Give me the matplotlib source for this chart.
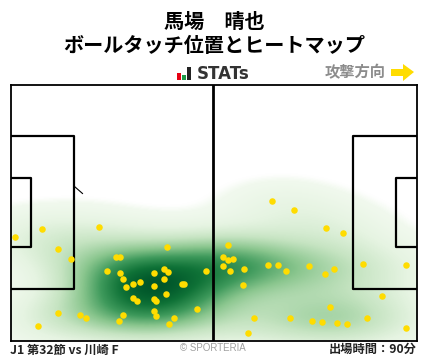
import numpy as np
import matplotlib.pyplot as plt
from matplotlib.colors import LinearSegmentedColormap
from matplotlib.patches import Rectangle, Polygon

plt.rcParams['font.family'] = ['Noto Sans CJK JP', 'DejaVu Sans']

# touch positions, pitch is 406 wide and 256 high, y counted from the top
touch_x = [4.8, 31.8, 88.8, 47.8, 60.5, 105.8, 109.8, 156.8, 96.8, 109.8, 112.8, 122.8, 129.8,
           115.8, 143.8, 153.8, 157.8, 153.8, 143.8, 171.5, 173.8, 195.8, 122.8, 126.8, 143.8,
           145.8, 155.8, 143.8, 145.8, 186.8, 163.8, 158.8, 112.8, 108.8, 69.8, 75.8, 47.8, 27.8,
           261.8, 283.8, 315.8, 332.8, 217.8, 212.8, 217.8, 222.8, 212.8, 219.8, 233.8, 257.8,
           267.8, 275.8, 298.8, 314.8, 323.8, 352.8, 395.8, 232.8, 371.8, 319.8, 243.8, 279.8,
           301.8, 311.8, 326.8, 336.8, 356.8, 395.8, 237.8]
touch_y = [152.8, 144.8, 142.8, 164.8, 174.8, 172.8, 172.8, 162.8, 186.8, 188.8, 194.8, 199.8, 197.8,
           202.8, 188.8, 184.8, 187.8, 194.8, 201.8, 199.8, 199.8, 186.8, 213.8, 216.8, 214.8,
           216.8, 209.8, 226.8, 231.8, 224.8, 233.8, 239.8, 230.8, 236.8, 230.8, 233.8, 228.8, 241.8,
           116.8, 125.8, 143.8, 148.8, 160.8, 172.8, 175.8, 174.8, 181.8, 186.8, 184.8, 180.8,
           180.8, 186.8, 181.8, 189.8, 184.8, 179.8, 180.8, 200.8, 211.8, 222.8, 233.8, 233.8,
           236.8, 237.8, 238.8, 239.8, 233.8, 243.8, 248.8]

title_1 = '馬場　晴也'
title_2 = 'ボールタッチ位置とヒートマップ'
match_label = 'J1 第32節 vs 川崎 F'
time_label = '出場時間：90分'

W, H = 428, 359
fig = plt.figure(figsize=(W / 100, H / 100), dpi=100)

# page layer in pixels for the texts
page = fig.add_axes([0, 0, 1, 1])
page.set_xlim(0, W)
page.set_ylim(H, 0)
page.axis('off')

page.text(214, 21, title_1, fontsize=14.5, fontweight='bold', ha='center', va='center')
page.text(214, 46, title_2, fontsize=14.5, fontweight='bold', ha='center', va='center')

# STATs logo
page.add_patch(Rectangle((177, 73), 4.5, 7, color='#e60012', lw=0))
page.add_patch(Rectangle((182, 75), 4, 5, color='#1d9a46', lw=0))
page.add_patch(Rectangle((187, 67), 4, 13, color='#222222', lw=0))
page.text(197, 74, 'STATs', fontsize=12, fontweight='bold', color='#333333', ha='left', va='center',
          family='DejaVu Sans')

page.text(355, 72, '攻撃方向', fontsize=11, fontweight='bold', color='#8c8c8c', ha='center', va='center')
page.add_patch(Polygon([(391, 69), (403, 69), (403, 64), (414, 72), (403, 81), (403, 76), (391, 76)],
                       color='#ffdc00', lw=0))

page.text(10, 350, match_label, fontsize=8.8, fontweight='bold', color='#222222', ha='left', va='center')
page.text(213, 348, '© SPORTERIA', fontsize=7, color='#a0a0a0', ha='center', va='center',
          family='Liberation Sans')
page.text(417, 349, time_label, fontsize=8.8, fontweight='bold', color='#222222', ha='right', va='center')

# pitch
ax = fig.add_axes([10.5 / W, 1 - 340.5 / H, 406 / W, 256 / H])
ax.set_xlim(0, 406)
ax.set_ylim(256, 0)
ax.set_xticks([])
ax.set_yticks([])
for s in ax.spines.values():
    s.set_linewidth(1.3)

# density of the touches
gx, gy = np.meshgrid(np.linspace(0, 406, 407), np.linspace(0, 256, 257))
dens = np.zeros_like(gx)
for px, py in zip(touch_x, touch_y):
    dens += np.exp(-((gx - px) ** 2 / (2 * 46.0 ** 2) + (gy - py) ** 2 / (2 * 20.0 ** 2)))
dens = dens / dens.max()

# white under the lowest level, so the heat area ends on a soft edge
cmap = LinearSegmentedColormap.from_list('heat', [(0, '#ffffff'), (0.03, '#ffffff'), (0.05, '#f1f9ee'),
                                                  (0.15, '#e6f4e2'), (0.3, '#c6e4c2'), (0.48, '#8ac68e'),
                                                  (0.66, '#3f9a5c'), (0.85, '#0f7237'), (1, '#00562a')])
ax.imshow(dens, extent=(0, 406, 256, 0), cmap=cmap, vmin=0, vmax=1, aspect='auto',
          interpolation='bilinear', zorder=1)

# pitch lines
lw = 1.6
ax.plot([202, 202], [0, 256], color='black', lw=2, zorder=3)
ax.plot([0, 63.5, 63.5, 0], [51.5, 51.5, 204.5, 204.5], color='black', lw=lw, zorder=3)
ax.plot([0, 20.5, 20.5, 0], [93.5, 93.5, 162.5, 162.5], color='black', lw=lw, zorder=3)
ax.plot([406, 342, 342, 406], [51.5, 51.5, 204.5, 204.5], color='black', lw=lw, zorder=3)
ax.plot([406, 385, 385, 406], [93.5, 93.5, 162.5, 162.5], color='black', lw=lw, zorder=3)
ax.plot([64, 72], [102, 109], color='black', lw=0.8, zorder=3)

ax.scatter(touch_x, touch_y, s=22, color='#ffdc00', linewidths=0, zorder=4)

fig.savefig('out.png', dpi=100)
